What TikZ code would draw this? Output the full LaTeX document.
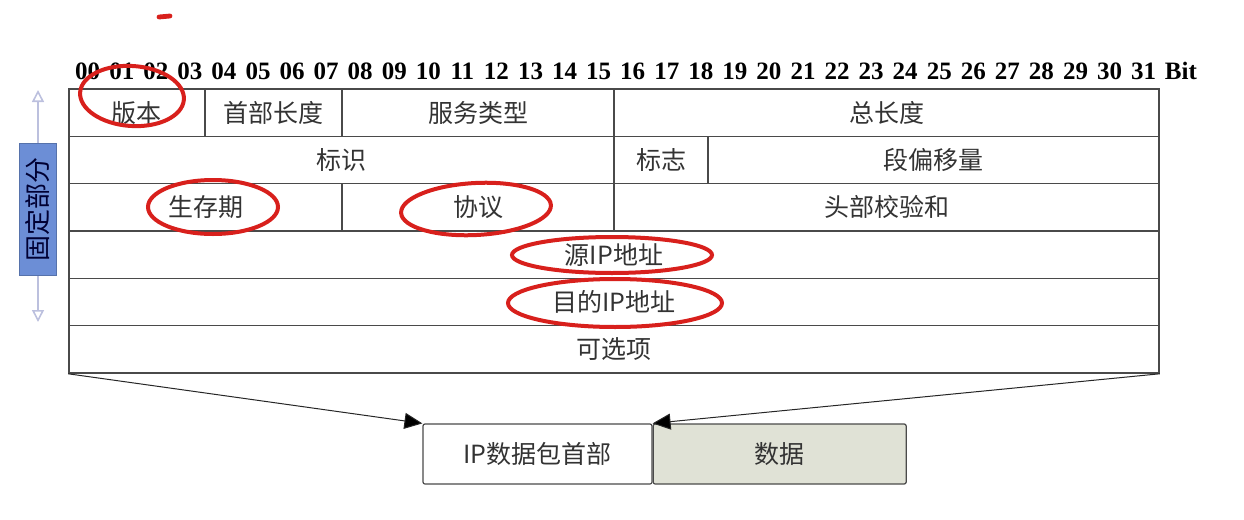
\documentclass[tikz,border=0pt]{standalone}
\usepackage{fontspec}
\setmainfont{Liberation Serif}
\newfontfamily\cjk{Noto Sans CJK SC}
\usepackage{xcolor}
\usepackage{tikz}
\usetikzlibrary{arrows.meta,positioning}

\definecolor{gridline}{HTML}{4A4A4A}
\definecolor{fieldtext}{HTML}{333333}
\definecolor{fixblue}{HTML}{6C8ED6}
\definecolor{fixarrow}{HTML}{BCC0DE}
\definecolor{datafill}{HTML}{E0E2D6}
\definecolor{markred}{HTML}{D8201C}

\begin{document}
\begin{tikzpicture}[
    x=0.5pt, y=-0.5pt,
    field/.style={draw=gridline, line width=0.8pt, rectangle, inner sep=0pt,
                  minimum height=23.67pt, text=fieldtext, font=\cjk\fontsize{12.5}{14}\selectfont},
    bitnum/.style={font=\bfseries\fontsize{12.5}{14}\selectfont, inner sep=0pt},
    pktbox/.style={draw=gridline, line width=0.6pt, rectangle, rounded corners=1pt,
                   minimum height=30pt, text=fieldtext, font=\cjk\fontsize{12.5}{14}\selectfont},
    arrow/.style={-{Triangle[length=9pt,width=8pt,fill=black]}, draw=black!85, line width=0.5pt},
    redmark/.style={draw=markred, line width=2pt}
]
\useasboundingbox (0,0) rectangle (1244,520);

% bit numbers
\foreach \i in {0,...,31}
  \node[bitnum] (b\i) at ({69+(\i+0.55)*34.0625}, 71) {\ifnum\i<10 0\fi\i};
\node[bitnum, right=4pt of b31] (bit) {Bit};

% header fields: name / left / right / row / text
\foreach \nm/\xa/\xb/\r/\txt in {
    ver/69/205/0/版本, hlen/205/342/0/首部长度, tos/342/614/0/服务类型, tlen/614/1159/0/总长度,
    ident/69/614/1/标识, flags/614/708/1/标志, fragoff/708/1159/1/段偏移量,
    ttl/69/342/2/生存期, proto/342/614/2/协议, csum/614/1159/2/头部校验和,
    src/69/1159/3/源IP地址, dst/69/1159/4/目的IP地址, opt/69/1159/5/可选项}
  \node[field, minimum width={(\xb-\xa)*0.5pt}] (\nm)
    at ({(\xa+\xb)/2}, {89+(\r+0.5)*47.33}) {\txt};

% fixed part
\coordinate (fixtop) at (38,90);
\coordinate (fixbot) at (38,322);
\draw[{Triangle[open,length=6pt,width=6pt]}-{Triangle[open,length=6pt,width=6pt]},
      draw=fixarrow, line width=0.8pt] (fixtop) -- (fixbot);
\node[fill=fixblue, draw=fixblue!80!black, line width=0.3pt, rotate=90,
      minimum width=66pt, minimum height=18.5pt, inner sep=0pt,
      text=blue!20!black, font=\cjk\fontsize{13}{14}\selectfont] (fixed) at (38,209) {固定部分};

% packet
\node[pktbox, minimum width=114.5pt] (hdr) at (537.5,454) {IP数据包首部};
\node[pktbox, fill=datafill, minimum width=126.5pt, right=0pt of hdr] (data) {数据};
\draw[arrow] (opt.south west) -- (hdr.north west);
\draw[arrow] (opt.south east) -- (hdr.north east);

% red hand marks
\draw[redmark, rotate around={-4:(132,96)}] (132,96) ellipse (52 and 30);
\draw[redmark] (213,207) ellipse (65 and 27);
\draw[redmark, rotate around={3:(476,209)}] (476,209) ellipse (75 and 26);
\draw[redmark] (612,255) ellipse (100 and 18);
\draw[redmark] (615,303) ellipse (107 and 24);
\draw[redmark, line cap=round, line width=2.4pt] (159,17) -- (170,16);

\end{tikzpicture}
\end{document}
